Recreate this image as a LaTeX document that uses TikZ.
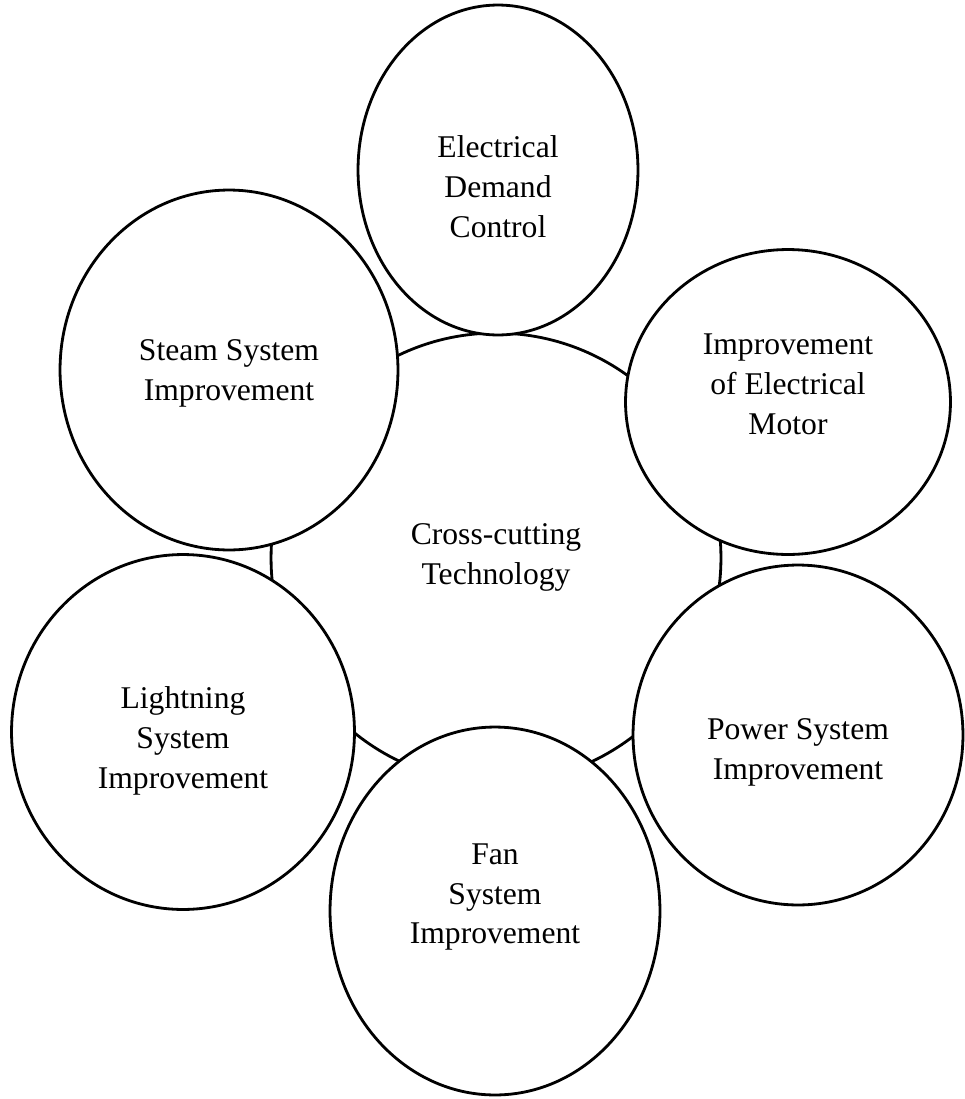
\documentclass[tikz,border=0pt]{standalone}
\usepackage{fontspec}
\setmainfont{Liberation Serif}
\usetikzlibrary{shapes.geometric}
\tikzset{bubble/.style={draw=black, fill=white, line width=1.6pt, ellipse, inner sep=0pt},
  caption/.style={align=center, font=\fontsize{18}{22.7}\selectfont}}
\begin{document}
\begin{tikzpicture}[x=0.02cm,y=-0.02cm]
\useasboundingbox (0,0) rectangle (964,1099);
% centre
\node[bubble, circle, minimum size=9cm] (core) at (496,558) {};
\node[caption] (coretext) at (496,557) {Cross-cutting\\Technology};
% outer bubbles
\node[bubble, minimum width=5.6cm, minimum height=6.6cm] (demand) at (498,170) {};
\node[caption] (demandtext) at (498,187) {Electrical\\Demand\\Control};
\node[bubble, minimum width=6.5cm, minimum height=6.1cm] (motor) at (788,402) {};
\node[caption] (motortext) at (788,384) {Improvement\\of Electrical\\Motor};
\node[bubble, minimum width=6.6cm, minimum height=6.8cm] (power) at (798,735) {};
\node[caption] (powertext) at (798,752) {Power System\\Improvement};
\node[bubble, minimum width=6.6cm, minimum height=7.36cm] (fan) at (495,911) {};
\node[caption] (fantext) at (495,897) {Fan\\System\\Improvement};
\node[bubble, minimum width=6.86cm, minimum height=7.1cm] (light) at (183,732) {};
\node[caption] (lighttext) at (183,741) {Lightning\\System\\Improvement};
\node[bubble, minimum width=6.76cm, minimum height=7.2cm] (steam) at (229,370) {};
\node[caption] (steamtext) at (229,373) {Steam System\\Improvement};
\end{tikzpicture}
\end{document}
